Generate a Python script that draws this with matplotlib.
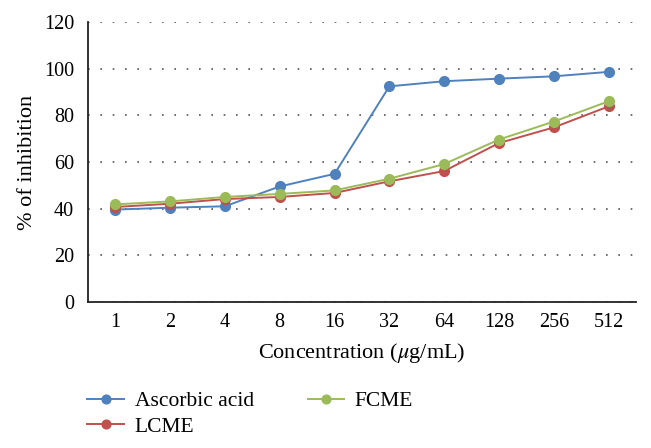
import matplotlib
matplotlib.use('Agg')
import matplotlib.pyplot as plt

plt.rcParams['font.family'] = ['Liberation Serif', 'DejaVu Serif']
plt.rcParams['mathtext.fontset'] = 'stix'

# datos
concentraciones = ['1', '2', '4', '8', '16', '32', '64', '128', '256', '512']
ascorbic = [39.6, 40.4, 41.0, 49.5, 54.9, 92.4, 94.6, 95.7, 96.7, 98.6]
lcme = [40.7, 42.1, 44.1, 45.0, 46.7, 51.7, 56.1, 68.1, 74.8, 83.8]
fcme = [41.8, 43.1, 45.0, 46.3, 47.8, 52.8, 59.1, 69.6, 77.3, 86.0]

x = range(len(concentraciones))

fig = plt.figure(figsize=(6.51, 4.48), dpi=100)
ax = fig.add_axes([0.135, 0.326, 0.842, 0.625])

ax.plot(x, ascorbic, marker='o', markersize=7, linewidth=1.4, color='#4F81BD', label='Ascorbic acid')
ax.plot(x, lcme, marker='o', markersize=7, linewidth=1.4, color='#C0504D', label='LCME')
ax.plot(x, fcme, marker='o', markersize=7, linewidth=1.4, color='#9BBB59', label='FCME')

ax.set_xlim(-0.5, 9.5)
ax.set_ylim(0, 120)
ax.set_yticks(range(0, 121, 20))
ax.set_xticks(list(x))
ax.set_xticklabels(concentraciones)
ax.tick_params(length=0, labelsize=14.5, pad=8)
ax.tick_params(axis='y', pad=10)
ax.yaxis.grid(True, linestyle=(0, (1, 6.4)), color='#555555', linewidth=1.2)
ax.set_axisbelow(True)

for s in ['top', 'right']:
    ax.spines[s].set_visible(False)
ax.spines['left'].set_linewidth(1.3)
ax.spines['bottom'].set_linewidth(1.3)
ax.spines['left'].set_color('#222222')
ax.spines['bottom'].set_color('#222222')

ax.set_ylabel('% of inhibition', fontsize=16)
ax.set_xlabel('Concentration ($\\mu$g/mL)', fontsize=16)
ax.yaxis.set_label_coords(-0.093, 0.5)
ax.xaxis.set_label_coords(0.5, -0.139)

fig.legend(loc='upper left', bbox_to_anchor=(0.134, 0.127), ncol=2, frameon=False,
           fontsize=15.5, markerscale=0.9, handlelength=1.7, handletextpad=0.5,
           columnspacing=2.5, labelspacing=0.26, borderpad=0, borderaxespad=0)

fig.savefig('out.png', dpi=100)
